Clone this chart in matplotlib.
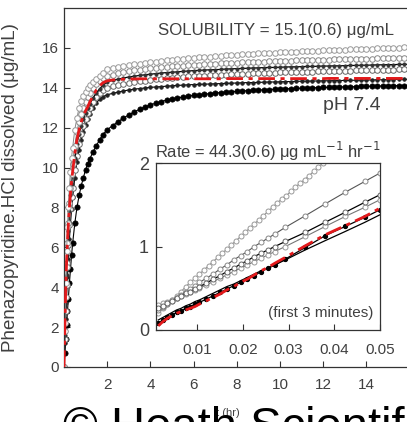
import matplotlib
matplotlib.use('Agg')
import matplotlib.pyplot as plt

plt.rcParams['font.family'] = ['Liberation Sans', 'DejaVu Sans']

# ---- main plot data (t in hr, amount in ug/mL) ----
t_main = [0, 0.04, 0.08, 0.12, 0.16, 0.2, 0.25, 0.3, 0.35, 0.4,
          0.5, 0.6, 0.7, 0.8, 0.9, 1.0, 1.1, 1.2, 1.35, 1.5, 1.65, 1.8,
          2.0, 2.25, 2.5, 2.75, 3.0, 3.25, 3.5, 3.75, 4.0, 4.25,
          4.5, 4.75, 5.0, 5.25, 5.5, 5.75, 6.0, 6.25, 6.5, 6.75,
          7.0, 7.25, 7.5, 7.75, 8.0, 8.25, 8.5, 8.75, 9.0, 9.25,
          9.5, 9.75, 10.0, 10.25, 10.5, 10.75, 11.0, 11.25, 11.5, 11.75,
          12.0, 12.25, 12.5, 12.75, 13.0, 13.25, 13.5, 13.75, 14.0, 14.25,
          14.5, 14.75, 15.0, 15.25, 15.5, 15.75, 16.0]

s1 = [0, 2.2, 4.2, 5.8, 7.0, 8.0, 9.0, 9.8, 10.5, 11.0,
      11.9, 12.5, 13.0, 13.35, 13.6, 13.8, 13.98, 14.12, 14.3, 14.45, 14.6, 14.75,
      14.95, 15.00, 15.05, 15.09, 15.13, 15.17, 15.21, 15.25, 15.28, 15.31,
      15.34, 15.37, 15.40, 15.42, 15.45, 15.47, 15.50, 15.52, 15.54, 15.56,
      15.58, 15.60, 15.62, 15.64, 15.66, 15.67, 15.69, 15.70, 15.72, 15.73,
      15.75, 15.76, 15.78, 15.79, 15.80, 15.81, 15.83, 15.84, 15.85, 15.86,
      15.87, 15.88, 15.89, 15.90, 15.91, 15.92, 15.93, 15.94, 15.95, 15.96,
      15.97, 15.98, 15.99, 16.00, 16.01, 16.02, 16.03]

s2 = [0, 1.8, 3.5, 5.0, 6.2, 7.2, 8.2, 9.0, 9.7, 10.2,
      11.1, 11.8, 12.3, 12.7, 13.0, 13.3, 13.55, 13.75, 14.0, 14.2, 14.35, 14.48,
      14.60, 14.66, 14.72, 14.78, 14.83, 14.87, 14.91, 14.95, 14.98, 15.01,
      15.03, 15.05, 15.07, 15.09, 15.11, 15.13, 15.15, 15.16, 15.18, 15.19,
      15.21, 15.22, 15.23, 15.24, 15.26, 15.27, 15.28, 15.29, 15.30, 15.31,
      15.32, 15.33, 15.34, 15.35, 15.36, 15.37, 15.37, 15.38, 15.39, 15.40,
      15.40, 15.41, 15.42, 15.42, 15.43, 15.44, 15.44, 15.45, 15.46, 15.46,
      15.47, 15.47, 15.48, 15.49, 15.49, 15.50, 15.50]

s3 = [0, 1.6, 3.2, 4.6, 5.8, 6.8, 7.8, 8.6, 9.2, 9.7,
      10.5, 11.2, 11.7, 12.1, 12.45, 12.75, 13.0, 13.2, 13.5, 13.75, 13.95, 14.12,
      14.30, 14.37, 14.43, 14.49, 14.54, 14.58, 14.62, 14.65, 14.68, 14.71,
      14.74, 14.76, 14.78, 14.80, 14.82, 14.84, 14.86, 14.87, 14.89, 14.90,
      14.91, 14.92, 14.94, 14.95, 14.96, 14.97, 14.98, 14.99, 15.00, 15.01,
      15.02, 15.02, 15.03, 15.04, 15.05, 15.05, 15.06, 15.07, 15.07, 15.08,
      15.09, 15.09, 15.10, 15.10, 15.11, 15.12, 15.12, 15.13, 15.13, 15.14,
      15.15, 15.15, 15.16, 15.16, 15.17, 15.17, 15.18]

s4 = [0, 1.4, 2.8, 4.1, 5.2, 6.1, 7.1, 7.9, 8.5, 9.0,
      9.9, 10.6, 11.2, 11.7, 12.1, 12.45, 12.75, 13.0, 13.3, 13.55, 13.75, 13.9,
      14.00, 14.07, 14.13, 14.19, 14.24, 14.28, 14.32, 14.36, 14.40, 14.43,
      14.46, 14.49, 14.51, 14.53, 14.55, 14.57, 14.58, 14.60, 14.61, 14.63,
      14.64, 14.65, 14.66, 14.68, 14.69, 14.70, 14.71, 14.72, 14.73, 14.74,
      14.75, 14.76, 14.77, 14.77, 14.78, 14.79, 14.80, 14.80, 14.81, 14.82,
      14.83, 14.83, 14.84, 14.85, 14.85, 14.86, 14.87, 14.87, 14.88, 14.89,
      14.89, 14.90, 14.91, 14.91, 14.92, 14.93, 14.93]

s_red = [0, 2.0, 3.9, 5.3, 6.3, 7.1, 8.0, 8.7, 9.3, 9.8,
         10.7, 11.4, 11.9, 12.3, 12.6, 12.85, 13.05, 13.3, 13.6, 13.9, 14.1, 14.25,
         14.35, 14.39, 14.41, 14.43, 14.44, 14.44, 14.45, 14.45, 14.45, 14.45,
         14.45, 14.45, 14.45, 14.45, 14.45, 14.45, 14.45, 14.45, 14.45, 14.45,
         14.45, 14.45, 14.46, 14.46, 14.46, 14.46, 14.46, 14.46, 14.46, 14.46,
         14.46, 14.46, 14.46, 14.46, 14.46, 14.46, 14.46, 14.46, 14.46, 14.46,
         14.46, 14.47, 14.47, 14.47, 14.47, 14.47, 14.47, 14.47, 14.47, 14.47,
         14.47, 14.47, 14.47, 14.47, 14.47, 14.47, 14.47]

s6 = [0, 1.2, 2.4, 3.5, 4.5, 5.4, 6.4, 7.2, 7.9, 8.5,
      9.5, 10.3, 10.9, 11.4, 11.8, 12.15, 12.45, 12.7, 13.0, 13.25, 13.42, 13.55,
      13.65, 13.72, 13.78, 13.84, 13.89, 13.93, 13.96, 13.99, 14.02, 14.04,
      14.06, 14.08, 14.10, 14.12, 14.13, 14.15, 14.16, 14.17, 14.18, 14.19,
      14.20, 14.21, 14.22, 14.23, 14.24, 14.25, 14.26, 14.26, 14.27, 14.28,
      14.29, 14.29, 14.30, 14.31, 14.31, 14.32, 14.33, 14.33, 14.34, 14.34,
      14.35, 14.35, 14.36, 14.36, 14.37, 14.37, 14.38, 14.38, 14.39, 14.39,
      14.40, 14.40, 14.41, 14.41, 14.42, 14.42, 14.43]

s7 = [0, 0.7, 1.4, 2.1, 2.8, 3.4, 4.2, 4.9, 5.6, 6.2,
      7.2, 8.0, 8.6, 9.1, 9.5, 9.9, 10.2, 10.45, 10.8, 11.1, 11.4, 11.65,
      11.90, 12.10, 12.30, 12.48, 12.64, 12.79, 12.92, 13.04, 13.14, 13.23,
      13.31, 13.38, 13.44, 13.49, 13.54, 13.58, 13.62, 13.65, 13.68, 13.71,
      13.74, 13.76, 13.78, 13.80, 13.82, 13.84, 13.86, 13.87, 13.89, 13.90,
      13.91, 13.93, 13.94, 13.95, 13.96, 13.97, 13.98, 13.99, 14.00, 14.01,
      14.02, 14.02, 14.03, 14.04, 14.05, 14.05, 14.06, 14.07, 14.07, 14.08,
      14.09, 14.09, 14.10, 14.10, 14.11, 14.11, 14.12]

# ---- inset data (first 3 minutes) ----
t_in1 = [0.0015, 0.0025, 0.0035, 0.0045, 0.0055, 0.0065, 0.0075, 0.0085, 0.0095, 0.0105,
         0.0115, 0.0125, 0.0135, 0.0145, 0.0155, 0.0165, 0.0175, 0.0185, 0.0195, 0.0205,
         0.0215, 0.0225, 0.0235, 0.0245, 0.0255, 0.0265, 0.0275, 0.0285, 0.0295, 0.0305,
         0.0315, 0.0325, 0.0335, 0.0345, 0.0355, 0.0365, 0.0375, 0.0385]
i1 = [0.20, 0.26, 0.31, 0.36, 0.41, 0.46, 0.52, 0.57, 0.62, 0.67,
      0.72, 0.77, 0.82, 0.87, 0.92, 0.97, 1.02, 1.07, 1.12, 1.17,
      1.22, 1.27, 1.32, 1.37, 1.42, 1.47, 1.52, 1.57, 1.61, 1.66,
      1.71, 1.76, 1.80, 1.85, 1.90, 1.95, 2.00, 2.05]

t_in = [0.0015, 0.0025, 0.0035, 0.0045, 0.0055, 0.0065, 0.0075, 0.0085, 0.0095, 0.0105,
        0.012, 0.0135, 0.015, 0.0165, 0.018, 0.0195, 0.021, 0.0225, 0.024, 0.0255,
        0.027, 0.0293, 0.0337, 0.038, 0.0424, 0.0467, 0.05]
i2 = [0.24, 0.28, 0.31, 0.35, 0.38, 0.42, 0.46, 0.49, 0.53, 0.57,
      0.62, 0.67, 0.73, 0.78, 0.84, 0.89, 0.94, 1.00, 1.05, 1.10,
      1.15, 1.23, 1.37, 1.51, 1.65, 1.78, 1.88]
i3 = [0.26, 0.29, 0.32, 0.35, 0.38, 0.41, 0.44, 0.46, 0.49, 0.52,
      0.56, 0.61, 0.65, 0.70, 0.74, 0.79, 0.83, 0.88, 0.92, 0.96,
      1.00, 1.06, 1.17, 1.29, 1.41, 1.53, 1.62]
i4 = [0.30, 0.32, 0.34, 0.36, 0.38, 0.41, 0.43, 0.45, 0.48, 0.50,
      0.54, 0.58, 0.62, 0.66, 0.70, 0.74, 0.78, 0.82, 0.86, 0.90,
      0.94, 1.00, 1.12, 1.24, 1.36, 1.47, 1.56]
i_red = [0.05, 0.10, 0.14, 0.17, 0.20, 0.22, 0.24, 0.26, 0.28, 0.31,
         0.35, 0.39, 0.43, 0.48, 0.52, 0.57, 0.61, 0.66, 0.71, 0.75,
         0.80, 0.87, 1.01, 1.14, 1.25, 1.36, 1.46]
i6 = [0.08, 0.12, 0.15, 0.18, 0.21, 0.23, 0.26, 0.28, 0.31, 0.33,
      0.37, 0.41, 0.45, 0.49, 0.53, 0.57, 0.61, 0.65, 0.70, 0.74,
      0.78, 0.85, 0.99, 1.13, 1.24, 1.35, 1.44]
i7 = [0.12, 0.15, 0.18, 0.21, 0.24, 0.26, 0.29, 0.31, 0.34, 0.36,
      0.40, 0.44, 0.48, 0.52, 0.55, 0.59, 0.63, 0.67, 0.71, 0.74,
      0.78, 0.84, 0.96, 1.07, 1.18, 1.29, 1.38]

W, H = 407, 422
txt = '#404040'
red = '#e31a1c'

fig = plt.figure(figsize=(W / 100, H / 100), dpi=100)

# main axes (right edge runs off the picture)
ax = fig.add_axes([64 / W, 55 / H, 345.6 / W, 359 / H])
ax.plot(t_main, s7, '-', color='black', lw=0.8, marker='o', ms=3.8, mfc='black', mec='black', mew=0.5)
ax.plot(t_main, s6, '-', color='black', lw=0.8, marker='o', ms=2.6, mfc='#222222', mec='#222222', mew=0.5)
ax.plot(t_main, s4, '-', color='#555555', lw=0.7, marker='o', ms=4.0, mfc='white', mec='#666666', mew=0.7)
ax.plot(t_main, s3, '-', color='black', lw=0.9, marker='o', ms=2.4, mfc='#333333', mec='#333333', mew=0.5)
ax.plot(t_main, s2, '-', color='#777777', lw=0.7, marker='o', ms=4.0, mfc='white', mec='#888888', mew=0.7)
ax.plot(t_main, s1, '-', color='#888888', lw=0.7, marker='o', ms=4.0, mfc='white', mec='#999999', mew=0.7)
ax.plot(t_main, s_red, color=red, lw=2.0, dashes=(6, 2, 1.5, 2), zorder=5)

ax.set_xlim(0, 16)
ax.set_ylim(0, 18)
ax.set_xticks([2, 4, 6, 8, 10, 12, 14])
ax.set_yticks([0, 2, 4, 6, 8, 10, 12, 14, 16])
ax.tick_params(direction='in', length=4, width=0.8, labelsize=11, colors='#333333', labelcolor=txt)
ax.tick_params(axis='x', pad=8)
for sp in ax.spines.values():
    sp.set_color('#333333')
    sp.set_linewidth(0.9)

ax.set_ylabel('Phenazopyridine.HCl dissolved (\u03bcg/mL)', fontsize=13.5, color=txt)
ax.yaxis.set_label_coords(-0.13, 0.5)
ax.set_xlabel('t (hr)', fontsize=8, color=txt)
ax.xaxis.set_label_coords(0.475, -0.115)

fig.text(276 / W, 1 - 31 / H, 'SOLUBILITY = 15.1(0.6) \u03bcg/mL', fontsize=12.2,
         color=txt, ha='center', va='center')
fig.text(352 / W, 1 - 105 / H, 'pH 7.4', fontsize=14, color=txt, ha='center', va='center')
fig.text(268 / W, 1 - 151 / H, 'Rate = 44.3(0.6) \u03bcg mL$^{-1}$ hr$^{-1}$', fontsize=11.9,
         color=txt, ha='center', va='center')

# inset
ins = fig.add_axes([156 / W, 92 / H, 224 / W, 167 / H])
ins.plot(t_in1, i1, '-', color='#888888', lw=0.7, marker='o', ms=3.6, mfc='white', mec='#999999', mew=0.7)
ins.plot(t_in, i2, '-', color='#555555', lw=0.8, marker='o', ms=3.6, mfc='white', mec='#888888', mew=0.7)
ins.plot(t_in, i4, '-', color='#777777', lw=0.8, marker='o', ms=3.6, mfc='white', mec='#999999', mew=0.7)
ins.plot(t_in, i3, '-', color='black', lw=0.9, marker='o', ms=3.6, mfc='white', mec='#666666', mew=0.7)
ins.plot(t_in, i7, '-', color='black', lw=0.9)
ins.plot(t_in, i6, '-', color='black', lw=0.9, marker='o', ms=2.8, mfc='black', mec='black')
ins.plot(t_in, i_red, color=red, lw=2.0, dashes=(6, 2, 1.5, 2), zorder=5)

ins.set_xlim(0.001, 0.05)
ins.set_ylim(0, 2)
ins.set_xticks([0.01, 0.02, 0.03, 0.04, 0.05])
ins.set_xticklabels(['0.01', '0.02', '0.03', '0.04', '0.05'])
ins.set_yticks([0, 1, 2])
ins.tick_params(direction='in', length=4, width=0.8, colors='#333333', labelcolor=txt)
ins.tick_params(axis='x', labelsize=11, pad=9)
ins.tick_params(axis='y', labelsize=13, pad=5)
for sp in ins.spines.values():
    sp.set_color('#333333')
    sp.set_linewidth(0.9)
ins.text(0.97, 0.1, '(first 3 minutes)', transform=ins.transAxes, fontsize=11,
         color=txt, ha='right', va='center')

# watermark across the bottom
fig.text(63 / W, -18 / H, '\u00a9 Heath Scientific', fontsize=34, color='black',
         ha='left', va='baseline')

fig.savefig('out.png', dpi=100)
